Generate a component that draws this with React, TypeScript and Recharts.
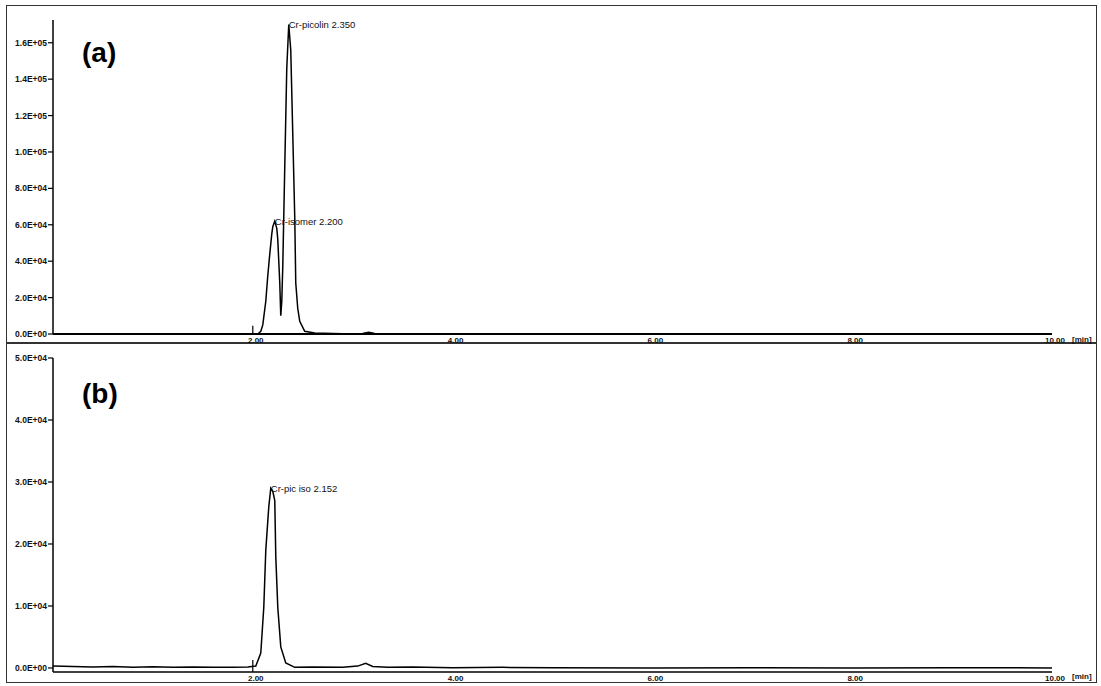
import React from "react";
import {
  LineChart,
  Line,
  XAxis,
  YAxis,
  ReferenceDot,
  ReferenceLine,
} from "recharts";

// panel (a): retention time (min) / detector response
const timeA = [
  0, 1, 1.9, 2.05, 2.08, 2.1, 2.13, 2.15, 2.17, 2.19, 2.2, 2.22, 2.24, 2.25,
  2.26, 2.27, 2.28, 2.29, 2.3, 2.32, 2.34, 2.36, 2.38, 2.4, 2.42, 2.43, 2.45,
  2.47, 2.52, 2.62, 2.9, 3.1, 3.16, 3.22, 3.5, 4.5, 6, 7.5, 9, 10,
];
const intensityA = [
  0, 0, 0, 0, 1500, 5000, 18000, 32000, 44000, 55000, 59000, 62000, 58000,
  52000, 40000, 28000, 10000, 18000, 37000, 92000, 146000, 170000, 156000,
  110000, 64000, 28000, 14000, 7000, 1500, 500, 200, 300, 900, 300, 100, 0, 0,
  0, 0, 0,
];
const peakNamesA = ["Cr-isomer 2.200", "Cr-picolin 2.350"];
const peakTimesA = [2.22, 2.36];
const peakHeightsA = [62000, 170000];
const yTicksA = [0, 20000, 40000, 60000, 80000, 100000, 120000, 140000, 160000];

// panel (b)
const timeB = [
  0, 0.2, 0.4, 0.6, 0.8, 1.0, 1.2, 1.4, 1.6, 1.8, 1.95, 2.03, 2.08, 2.11, 2.13,
  2.16, 2.18, 2.2, 2.22, 2.23, 2.25, 2.28, 2.33, 2.42, 2.6, 2.9, 3.05, 3.13,
  3.2, 3.35, 3.6, 4.0, 4.5, 5, 6, 7, 8, 9, 10,
];
const intensityB = [
  300, 250, 150, 250, 100, 200, 100, 150, 100, 100, 150, 300, 2400, 9800,
  19000, 26000, 29000, 28500, 27000, 18000, 9800, 3400, 800, 100, 150, 100,
  300, 750, 250, 100, 150, 50, 100, 50, 0, 50, 0, 50, 0,
];
const peakNamesB = ["Cr-pic iso 2.152"];
const peakTimesB = [2.18];
const peakHeightsB = [29000];
const yTicksB = [0, 10000, 20000, 30000, 40000, 50000];

const xTicks = [2, 4, 6, 8, 10];

const dataA = timeA.map((t, i) => ({ t, v: intensityA[i] }));
const dataB = timeB.map((t, i) => ({ t, v: intensityB[i] }));

const FONT = "'Liberation Sans', Arial, sans-serif";

// 1.6E+05 style labels
const sci = (v: number) => {
  if (v === 0) return "0.0E+00";
  const e = Math.floor(Math.log10(Math.abs(v)));
  const m = v / Math.pow(10, e);
  return `${m.toFixed(1)}E+${String(e).padStart(2, "0")}`;
};

const XTick = (props: any) => {
  const { x, y, payload } = props;
  return (
    <text
      x={x + 3}
      y={y + 9}
      textAnchor="middle"
      fontSize={8}
      fontWeight={700}
      fontFamily={FONT}
      fill="#111"
    >
      {payload.value.toFixed(2)}
    </text>
  );
};

const yTickStyle = {
  fontSize: 8.5,
  fontWeight: 700,
  fill: "#111",
  fontFamily: FONT,
};

const peakLabel = (name: string) => ({
  value: name,
  position: "right" as const,
  offset: 0,
  fontSize: 9.5,
  fill: "#111",
  fontFamily: FONT,
});

export default function App() {
  return (
    <div
      style={{
        position: "absolute",
        left: 0,
        top: 0,
        width: 1101,
        height: 686,
        background: "#fff",
        overflow: "hidden",
      }}
    >
      <div
        style={{
          position: "absolute",
          left: 6,
          top: 5,
          width: 1089,
          height: 676,
          border: "1.5px solid #333",
        }}
      />
      <div
        style={{
          position: "absolute",
          left: 6,
          top: 342,
          width: 1091,
          height: 1.5,
          background: "#333",
        }}
      />

      <div style={{ position: "absolute", left: 0, top: 0 }}>
        <LineChart
          width={1101}
          height={350}
          data={dataA}
          margin={{ top: 20, right: 49, left: 5, bottom: 2 }}
        >
          <XAxis
            type="number"
            dataKey="t"
            domain={[0, 10]}
            ticks={xTicks}
            allowDataOverflow
            height={14}
            tickSize={0}
            tickMargin={0}
            tickLine={false}
            axisLine={{ stroke: "#000", strokeWidth: 2.2 }}
            tick={<XTick />}
          />
          <YAxis
            type="number"
            domain={[0, 172500]}
            ticks={yTicksA}
            allowDataOverflow
            width={48}
            tickSize={5}
            tickMargin={1}
            tickLine={{ stroke: "#000", strokeWidth: 1.2 }}
            axisLine={{ stroke: "#000", strokeWidth: 1.5 }}
            tick={yTickStyle}
            tickFormatter={sci}
          />
          <ReferenceLine
            segment={[
              { x: 2, y: 0 },
              { x: 2, y: 4500 },
            ]}
            stroke="#000"
            strokeWidth={1.2}
          />
          <Line
            type="linear"
            dataKey="v"
            stroke="#000"
            strokeWidth={1.5}
            dot={false}
            isAnimationActive={false}
          />
          {peakNamesA.map((name, i) => (
            <ReferenceDot
              key={name}
              x={peakTimesA[i]}
              y={peakHeightsA[i]}
              r={0}
              fill="none"
              stroke="none"
              label={peakLabel(name)}
            />
          ))}
        </LineChart>
      </div>

      <div style={{ position: "absolute", left: 0, top: 342 }}>
        <LineChart
          width={1101}
          height={344}
          data={dataB}
          margin={{ top: 16, right: 49, left: 5, bottom: 2 }}
        >
          <XAxis
            type="number"
            dataKey="t"
            domain={[0, 10]}
            ticks={xTicks}
            allowDataOverflow
            height={12}
            tickSize={0}
            tickMargin={0}
            tickLine={false}
            axisLine={{ stroke: "#000", strokeWidth: 1.6 }}
            tick={<XTick />}
          />
          <YAxis
            type="number"
            domain={[-650, 50000]}
            ticks={yTicksB}
            allowDataOverflow
            width={48}
            tickSize={5}
            tickMargin={1}
            tickLine={{ stroke: "#000", strokeWidth: 1.2 }}
            axisLine={{ stroke: "#000", strokeWidth: 1.5 }}
            tick={yTickStyle}
            tickFormatter={sci}
          />
          <ReferenceLine
            segment={[
              { x: 2, y: -650 },
              { x: 2, y: 1300 },
            ]}
            stroke="#000"
            strokeWidth={1.2}
          />
          <Line
            type="linear"
            dataKey="v"
            stroke="#000"
            strokeWidth={1.5}
            dot={false}
            isAnimationActive={false}
          />
          {peakNamesB.map((name, i) => (
            <ReferenceDot
              key={name}
              x={peakTimesB[i]}
              y={peakHeightsB[i]}
              r={0}
              fill="none"
              stroke="none"
              label={peakLabel(name)}
            />
          ))}
        </LineChart>
      </div>

      <div
        style={{
          position: "absolute",
          left: 82,
          top: 37,
          fontFamily: FONT,
          fontWeight: 700,
          fontSize: 28,
          color: "#000",
        }}
      >
        (a)
      </div>
      <div
        style={{
          position: "absolute",
          left: 82,
          top: 378,
          fontFamily: FONT,
          fontWeight: 700,
          fontSize: 28,
          color: "#000",
        }}
      >
        (b)
      </div>
      <div
        style={{
          position: "absolute",
          left: 1072,
          top: 335,
          fontFamily: FONT,
          fontWeight: 700,
          fontSize: 8,
          color: "#111",
        }}
      >
        [min]
      </div>
      <div
        style={{
          position: "absolute",
          left: 1072,
          top: 672,
          fontFamily: FONT,
          fontWeight: 700,
          fontSize: 8,
          color: "#111",
        }}
      >
        [min]
      </div>
    </div>
  );
}
